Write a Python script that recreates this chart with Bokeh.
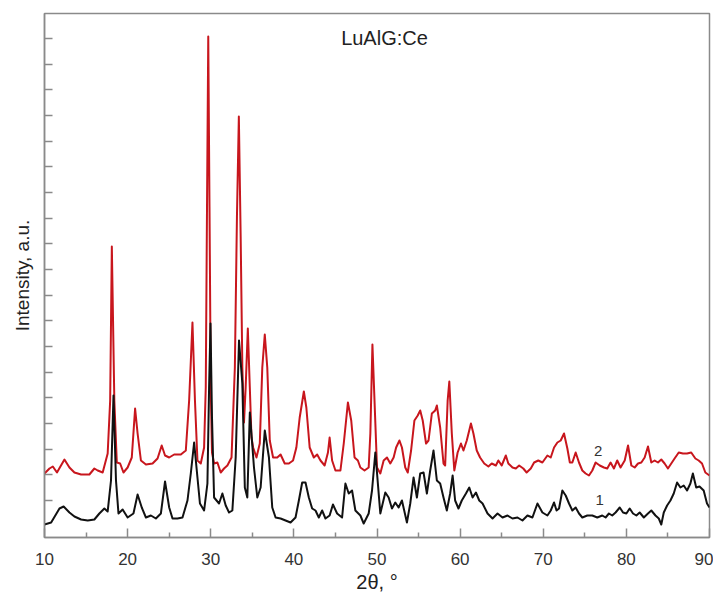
from bokeh.plotting import figure
from bokeh.models import Range1d, FixedTicker, Label, CustomJSTickFormatter
from bokeh.embed import file_html
from bokeh.resources import INLINE

# ---- data (2theta in degrees, intensity in arbitrary units) ----
x1 = [10.0, 10.8, 11.8, 12.3, 13.0, 13.6, 14.4, 15.2, 16.0, 16.6,
      17.2, 17.6, 18.0, 18.3, 18.6, 18.9, 19.4, 20.0, 20.7, 21.2,
      21.7, 22.2, 22.8, 23.4, 24.0, 24.5, 25.0, 25.4, 26.0, 26.6,
      27.2, 27.6, 28.0, 28.4, 28.7, 29.2, 29.6, 29.8, 29.97, 30.15,
      30.4, 31.0, 31.4, 31.8, 32.2, 32.6, 33.0, 33.4, 33.8, 34.1,
      34.4, 34.7, 35.2, 35.6, 36.0, 36.5, 37.0, 37.4, 37.8, 38.4,
      39.0, 39.6, 40.2, 40.6, 41.0, 41.4, 41.8, 42.2, 42.6, 43.0,
      43.4, 43.8, 44.3, 44.7, 45.2, 45.8, 46.2, 46.6, 47.0, 47.4,
      48.0, 48.4, 49.0, 49.4, 49.8, 50.4, 51.0, 51.4, 51.8, 52.2,
      52.6, 53.0, 53.6, 54.0, 54.4, 54.8, 55.2, 55.6, 56.0, 56.4,
      56.8, 57.2, 57.6, 58.0, 58.4, 58.8, 59.1, 59.4, 59.8, 60.2,
      60.7, 61.1, 61.5, 61.9, 62.3, 62.7, 63.3, 63.9, 64.5, 65.1,
      65.7, 66.3, 66.9, 67.5, 68.1, 68.7, 69.3, 69.9, 70.5, 70.9,
      71.3, 71.6, 71.9, 72.3, 72.7, 73.1, 73.5, 73.9, 74.3, 74.7,
      75.3, 75.9, 76.5, 77.1, 77.5, 77.9, 78.3, 78.7, 79.2, 79.6,
      80.0, 80.4, 80.8, 81.2, 81.6, 82.1, 82.6, 83.0, 83.5, 83.9,
      84.2, 84.5, 84.9, 85.3, 85.7, 86.1, 86.5, 86.9, 87.3, 87.7,
      88.0, 88.4, 88.8, 89.3, 89.7, 90.0]
y1 = [13, 15, 29, 31, 25, 21, 18, 17, 18, 24,
      29, 26, 57, 142, 57, 24, 28, 20, 24, 43,
      30, 20, 22, 19, 24, 56, 30, 19, 19, 20,
      37, 64, 95, 60, 34, 27, 54, 150, 214, 120,
      40, 34, 44, 32, 25, 27, 80, 197, 154, 50,
      40, 125, 70, 40, 50, 107, 80, 30, 20, 19,
      17, 15, 20, 37, 55, 55, 40, 29, 27, 20,
      27, 19, 22, 33, 24, 20, 54, 44, 47, 27,
      22, 14, 24, 47, 85, 24, 45, 40, 29, 35,
      30, 37, 15, 34, 60, 40, 64, 65, 44, 67,
      87, 57, 54, 40, 27, 44, 62, 37, 29, 37,
      44, 50, 40, 45, 37, 34, 24, 19, 24, 20,
      22, 19, 20, 17, 22, 20, 34, 25, 22, 27,
      35, 27, 29, 47, 42, 34, 27, 30, 24, 20,
      22, 22, 20, 22, 20, 24, 22, 25, 30, 25,
      24, 29, 24, 22, 25, 20, 24, 27, 22, 19,
      13, 25, 32, 37, 44, 55, 50, 52, 47, 54,
      64, 50, 51, 47, 34, 30]

x2 = [10.0, 10.6, 11.0, 11.5, 12.4, 13.0, 13.6, 14.4, 15.4, 16.0,
      16.4, 17.0, 17.6, 17.9, 18.1, 18.4, 18.7, 19.1, 19.5, 20.0,
      20.5, 20.9, 21.2, 21.6, 22.2, 23.0, 23.6, 24.1, 24.5, 25.0,
      25.6, 26.4, 27.0, 27.4, 27.8, 28.1, 28.4, 28.8, 29.2, 29.4,
      29.55, 29.7, 29.85, 30.0, 30.15, 30.4, 30.8, 31.2, 31.6, 32.0,
      32.5, 32.9, 33.15, 33.38, 33.6, 33.8, 34.0, 34.2, 34.46, 34.7,
      34.9, 35.1, 35.5, 35.9, 36.2, 36.5, 36.8, 37.1, 37.5, 38.0,
      38.4, 38.9, 39.4, 39.9, 40.3, 40.7, 41.2, 41.5, 41.9, 42.4,
      42.8, 43.2, 43.7, 44.1, 44.3, 44.6, 45.0, 45.6, 46.0, 46.5,
      46.9, 47.3, 47.7, 48.0, 48.5, 49.0, 49.2, 49.45, 49.7, 50.0,
      50.4, 50.8, 51.2, 51.6, 52.0, 52.3, 52.7, 53.0, 53.4, 53.7,
      54.1, 54.5, 54.9, 55.2, 55.5, 55.9, 56.2, 56.6, 57.0, 57.2,
      57.6, 58.0, 58.2, 58.5, 58.7, 59.0, 59.3, 59.7, 60.1, 60.4,
      60.8, 61.3, 61.6, 62.0, 62.4, 62.9, 63.4, 63.8, 64.3, 64.6,
      65.0, 65.5, 65.8, 66.3, 66.7, 67.1, 67.6, 68.0, 68.5, 68.9,
      69.4, 69.9, 70.5, 70.9, 71.3, 71.7, 72.1, 72.5, 72.9, 73.2,
      73.5, 73.9, 74.3, 74.7, 75.1, 75.5, 75.9, 76.3, 76.8, 77.3,
      77.7, 78.1, 78.5, 78.9, 79.3, 79.8, 80.2, 80.6, 81.0, 81.4,
      81.8, 82.2, 82.6, 83.0, 83.4, 83.8, 84.2, 84.6, 85.0, 85.4,
      85.8, 86.3, 86.8, 87.3, 87.8, 88.3, 88.7, 89.1, 89.5, 90.0]
y2 = [64, 69, 71, 65, 78, 70, 65, 63, 63, 69,
      67, 65, 84, 137, 291, 137, 75, 74, 65, 70,
      80, 129, 104, 77, 73, 74, 79, 92, 82, 80,
      83, 83, 87, 137, 215, 137, 77, 74, 90, 150,
      330, 501, 330, 150, 85, 74, 75, 65, 69, 72,
      80, 170, 320, 421, 300, 170, 115, 150, 209, 150,
      100, 90, 80, 94, 170, 203, 170, 97, 80, 80,
      83, 74, 74, 77, 90, 120, 146, 130, 90, 80,
      83, 77, 72, 85, 100, 77, 67, 67, 94, 135,
      117, 80, 77, 70, 67, 70, 104, 193, 137, 70,
      64, 77, 80, 74, 80, 90, 97, 90, 70, 65,
      87, 117, 122, 127, 117, 94, 97, 124, 127, 132,
      110, 74, 72, 137, 156, 104, 67, 85, 94, 87,
      97, 114, 104, 87, 80, 74, 71, 74, 72, 77,
      72, 82, 74, 70, 69, 72, 69, 65, 69, 75,
      77, 75, 82, 80, 90, 95, 97, 104, 89, 75,
      75, 85, 75, 67, 64, 62, 67, 75, 72, 70,
      69, 75, 69, 77, 70, 77, 92, 72, 70, 74,
      75, 80, 91, 75, 77, 75, 78, 74, 69, 74,
      79, 85, 84, 84, 85, 79, 77, 74, 65, 62]

x_ticks = [10, 20, 30, 40, 50, 60, 70, 80, 90]
x_minor = [15, 25, 35, 45, 55, 65, 75, 85]
title_text = "LuAlG:Ce"
x_title = "2θ, °"
y_title = "Intensity, a.u."
curve_labels = ["1", "2"]

FONT = "Liberation Sans"

p = figure(width=713, height=599, x_range=Range1d(10, 90), y_range=Range1d(0, 524),
           output_backend="svg", toolbar_location=None,
           min_border_left=44, min_border_right=4, min_border_top=13, min_border_bottom=62,
           background_fill_color="white", border_fill_color="white")
p.grid.visible = False
p.outline_line_color = "#8a8a8a"
p.outline_line_width = 1.5

p.line(x2, y2, line_color="#c8161d", line_width=2, line_join="round")
p.line(x1, y1, line_color="#111111", line_width=2, line_join="round")

# x axis
p.xaxis.ticker = FixedTicker(ticks=x_ticks, minor_ticks=x_minor)
p.xaxis.major_tick_in = 9
p.xaxis.major_tick_out = 0
p.xaxis.minor_tick_in = 5
p.xaxis.minor_tick_out = 0
p.xaxis.axis_line_color = "#8a8a8a"
p.xaxis.axis_line_width = 1.5
p.xaxis.major_tick_line_color = "#8a8a8a"
p.xaxis.minor_tick_line_color = "#8a8a8a"
p.xaxis.major_tick_line_width = 1.5
p.xaxis.minor_tick_line_width = 1.5
p.xaxis.major_label_text_font = FONT
p.xaxis.major_label_text_font_size = "17px"
p.xaxis.major_label_text_color = "#333333"
p.xaxis.major_label_standoff = 15
p.xaxis.axis_label = x_title
p.xaxis.axis_label_text_font = FONT
p.xaxis.axis_label_text_font_size = "20px"
p.xaxis.axis_label_text_font_style = "normal"
p.xaxis.axis_label_text_color = "#222222"
p.xaxis.axis_label_standoff = 3

# y axis
p.yaxis.ticker = FixedTicker(ticks=[37 + 25.67 * k for k in range(19)], minor_ticks=[])
p.yaxis.major_tick_in = 8
p.yaxis.major_tick_out = 0
p.yaxis.minor_tick_in = 0
p.yaxis.minor_tick_out = 0
p.yaxis.axis_line_color = "#8a8a8a"
p.yaxis.axis_line_width = 1.5
p.yaxis.major_tick_line_color = "#8a8a8a"
p.yaxis.major_tick_line_width = 1.5
p.yaxis.formatter = CustomJSTickFormatter(code="return ''")
p.yaxis.major_label_text_font_size = "0px"
p.yaxis.major_label_standoff = 0
p.yaxis.axis_label = y_title
p.yaxis.axis_label_text_font = FONT
p.yaxis.axis_label_text_font_size = "19px"
p.yaxis.axis_label_text_font_style = "normal"
p.yaxis.axis_label_text_color = "#222222"
p.yaxis.axis_label_standoff = 12

# annotations
p.add_layout(Label(x=50.9, y=500, text=title_text, text_font=FONT, text_font_size="20px",
                   text_color="#222222", text_align="center", text_baseline="middle"))
p.add_layout(Label(x=76.8, y=38, text=curve_labels[0], text_font=FONT, text_font_size="15px",
                   text_color="#333333", text_align="center", text_baseline="middle"))
p.add_layout(Label(x=76.6, y=87, text=curve_labels[1], text_font=FONT, text_font_size="15px",
                   text_color="#333333", text_align="center", text_baseline="middle"))

open("out.html", "w").write(file_html(p, INLINE))
